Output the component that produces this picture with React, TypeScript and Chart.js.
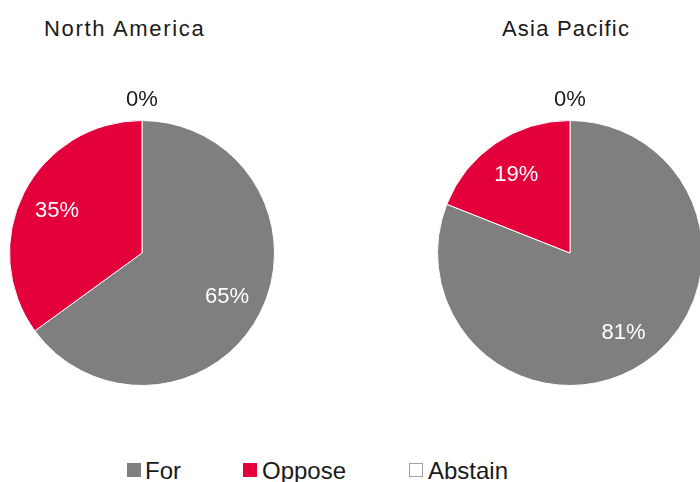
import React, { useEffect, useRef } from "react";
import { Chart, registerables } from "chart.js";

Chart.register(...registerables);

const categories = ["For", "Oppose", "Abstain"];
const northAmerica = [65, 35, 0];
const asiaPacific = [81, 19, 0];
const colors = ["#7f7f7f", "#e4003b", "#ffffff"];
const FONT = "'Liberation Sans', Arial, sans-serif";

const labelPlugin = {
  id: "pctLabels",
  afterDatasetsDraw(chart: any) {
    const ctx = chart.ctx;
    const meta = chart.getDatasetMeta(0);
    const data = chart.data.datasets[0].data as number[];
    ctx.save();
    ctx.font = `22px ${FONT}`;
    ctx.textAlign = "center";
    ctx.textBaseline = "middle";
    meta.data.forEach((arc: any, i: number) => {
      const p = arc.getProps(["x", "y", "startAngle", "endAngle", "outerRadius"], true);
      const v = data[i];
      const mid = (p.startAngle + p.endAngle) / 2;
      let r: number;
      if (v > 0) {
        r = p.outerRadius * 0.72;
        ctx.fillStyle = "#ffffff";
      } else {
        r = p.outerRadius + 22;
        ctx.fillStyle = "#1a1a1a";
      }
      ctx.fillText(`${v}%`, p.x + Math.cos(mid) * r, p.y + Math.sin(mid) * r + 1);
    });
    ctx.restore();
  },
};

function Pie({ values, left, top, width, height, padding }: any) {
  const ref = useRef<HTMLCanvasElement>(null);
  useEffect(() => {
    const chart = new Chart(ref.current!, {
      type: "pie",
      data: {
        labels: categories,
        datasets: [
          {
            data: values,
            backgroundColor: colors,
            borderColor: "#ffffff",
            borderWidth: 1,
          },
        ],
      },
      options: {
        animation: false,
        responsive: false,
        events: [],
        layout: { padding },
        plugins: { legend: { display: false }, tooltip: { enabled: false }, title: { display: false } },
      },
      plugins: [labelPlugin],
    });
    return () => chart.destroy();
  }, []);
  return (
    <canvas
      ref={ref}
      width={width}
      height={height}
      style={{ position: "absolute", left, top, width, height }}
    />
  );
}

const textStyle: React.CSSProperties = {
  position: "absolute",
  fontFamily: FONT,
  fontSize: 22,
  color: "#1a1a1a",
  whiteSpace: "nowrap",
  lineHeight: "26px",
};

export default function App() {
  const legendItems = [
    { label: categories[0], color: colors[0], border: colors[0], sq: 127, tx: 145 },
    { label: categories[1], color: colors[1], border: colors[1], sq: 243, tx: 262 },
    { label: categories[2], color: colors[2], border: "#a0a0a0", sq: 409, tx: 428 },
  ];
  return (
    <div
      style={{
        position: "fixed",
        left: 0,
        top: 0,
        width: 700,
        height: 482,
        overflow: "hidden",
        background: "#fff",
      }}
    >
      <div style={{ ...textStyle, left: 44, top: 16, letterSpacing: "1.7px" }}>North America</div>
      <div style={{ ...textStyle, left: 502, top: 16, letterSpacing: "1.2px" }}>Asia Pacific</div>
      <Pie
        values={northAmerica}
        left={0}
        top={80}
        width={290}
        height={340}
        padding={{ left: 9, top: 40, right: 15, bottom: 34 }}
      />
      <Pie
        values={asiaPacific}
        left={420}
        top={80}
        width={290}
        height={340}
        padding={{ left: 17, top: 40, right: 7, bottom: 34 }}
      />
      {legendItems.map((it) => (
        <React.Fragment key={it.label}>
          <div
            style={{
              position: "absolute",
              left: it.sq,
              top: 463,
              width: it.label === "Abstain" ? 12 : 14,
              height: it.label === "Abstain" ? 12 : 14,
              background: it.color,
              border: it.label === "Abstain" ? `1px solid ${it.border}` : "none",
            }}
          />
          <div style={{ ...textStyle, fontSize: 24, left: it.tx, top: 458 }}>{it.label}</div>
        </React.Fragment>
      ))}
    </div>
  );
}
